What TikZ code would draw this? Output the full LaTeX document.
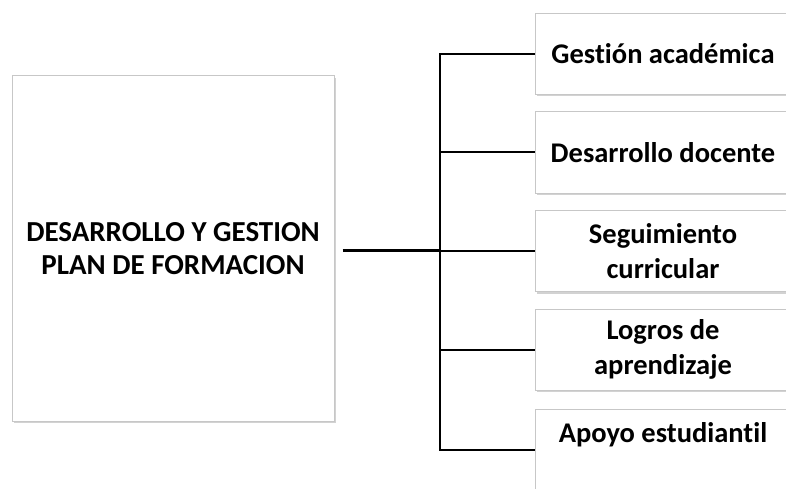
\documentclass[tikz,border=0pt]{standalone}
\usepackage{fontspec}
\setmainfont[Ligatures=NoCommon]{Carlito}
\usetikzlibrary{shadows}
\begin{document}
\begin{tikzpicture}[x=1pt,y=-1pt,
    plan/.style ={rectangle, draw=black!22, fill=white, line width=1pt,
      minimum width=322pt, minimum height=345pt, align=center,
      font=\bfseries\fontsize{29}{33}\selectfont,
      drop shadow={shadow xshift=1.5pt, shadow yshift=-2pt, fill=black!35}},
    area/.style ={plan, minimum width=256pt, minimum height=81pt,
      font=\bfseries\fontsize{28.5}{35}\selectfont}]
   \clip (0,0) rectangle (786,489);
   \fill[white] (0,0) rectangle (786,489);
   \node[plan] (P) at (173,248.5) {DESARROLLO Y GESTION\\PLAN DE FORMACION};
   \node[area] (G) at (663,54)  {Gestión académica};
   \node[area] (D) at (663,152.5)  {Desarrollo docente};
   \node[area] (S) at (663,251)  {Seguimiento\\curricular};
   \node[area] (L) at (663,349.5)  {Logros de\\aprendizaje};
   \node[area] (A) at (663,450)  {Apoyo estudiantil\\\mbox{}};
   \coordinate (T) at (440,250);

   \draw[line width=3pt, shorten <=8pt] (P.east |- T) to (T);
   \draw[line width=2pt] (T) |- (G.west);
   \draw[line width=2pt] (T) |- (D.west);
   \draw[line width=2pt] (T) |- (S.west);
   \draw[line width=2pt] (T) |- (L.west);
   \draw[line width=2pt] (T) |- (A.west);
 \end{tikzpicture}
\end{document}
